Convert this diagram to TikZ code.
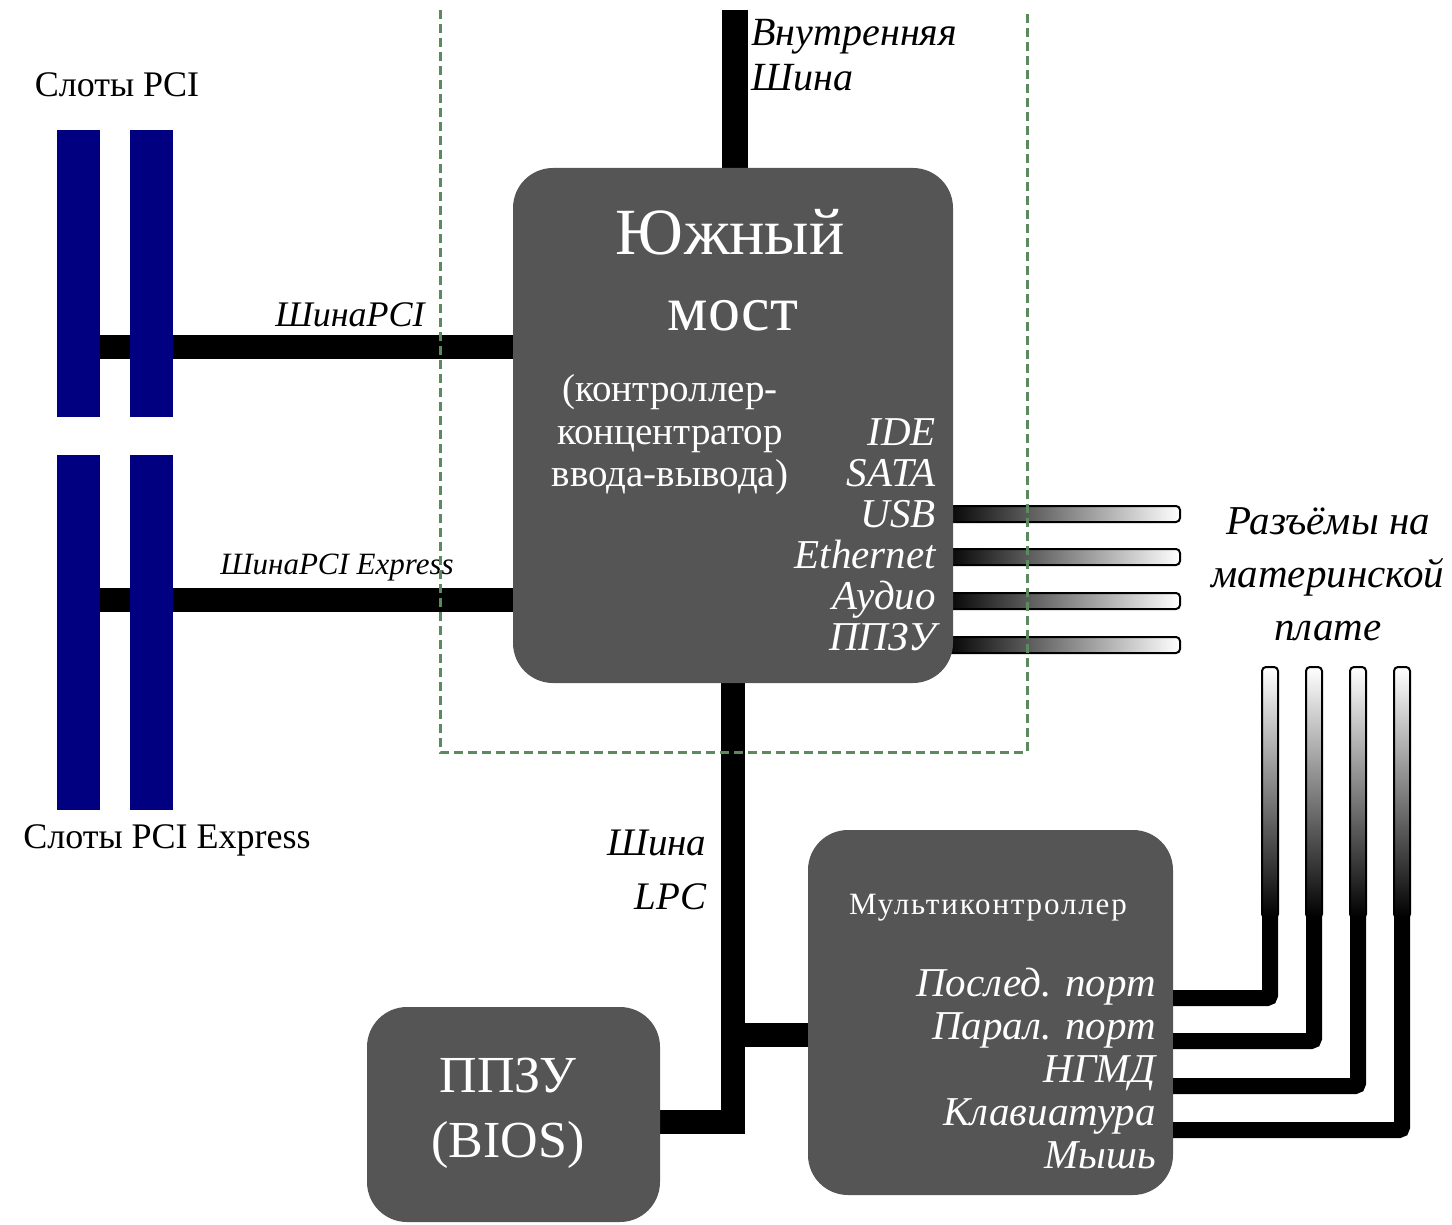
\documentclass[tikz,border=0pt]{standalone}
\usepackage{fontspec}
\setmainfont{Liberation Serif}
\usetikzlibrary{positioning, backgrounds}
\definecolor{chip}{HTML}{555555}
\definecolor{slotblue}{HTML}{000080}
\definecolor{frame}{HTML}{5A8A5E}

\begin{document}
\begin{tikzpicture}[x=1pt, y=-1pt,
  chipbox/.style={fill=chip, rounded corners=40pt, inner sep=0pt},
  slot/.style={fill=slotblue, minimum width=43pt, inner sep=0pt},
  bus/.style={line width=24pt},
  wire/.style={line width=16pt, rounded corners=3pt},
  tube/.style={draw=black, line width=2pt, rounded corners=4pt},
  lbl/.style={font=\fontsize{36}{42}\selectfont},
  ilbl/.style={font=\fontsize{40}{45}\selectfont\itshape},
  wlbl/.style={text=white, align=right, inner sep=0pt}]
  \useasboundingbox (0,0) rectangle (1452,1225);
  % Chips
  \node[chipbox, minimum width=440pt, minimum height=515pt] (sb) at (733,425.5) {};
  \node[chipbox, minimum width=365pt, minimum height=365pt] (mc) at (990.5,1012.5) {};
  \node[chipbox, minimum width=293pt, minimum height=215pt] (bios) at (513.5,1114.5) {};
  % Slots
  \node[slot, minimum height=287pt] (pci1) at (78.5,273.5) {};
  \node[slot, minimum height=287pt, right=30pt of pci1] (pci2) {};
  \node[slot, minimum height=355pt] (pcie1) at (78.5,632.5) {};
  \node[slot, minimum height=355pt, right=30pt of pcie1] (pcie2) {};
  \node[lbl] (tpci) at (117,85) {Слоты PCI};
  \node[lbl] (tpcie) at (167,840) {Слоты PCI Express};
  % Buses
  \coordinate (ibtop) at (735,10);
  \begin{scope}[on background layer]
    \draw[bus, line width=26pt] (ibtop) -- (ibtop |- sb.north);
    \draw[bus] (pci1.east |- 0,347) -- (sb.west |- 0,347);
    \draw[bus] (pcie1.east |- 0,600) -- (sb.west |- 0,600);
    \draw[bus] (sb.south) |- (bios.east |- 0,1122);
    \draw[bus] (sb.south |- 0,1035) -- (mc.west |- 0,1035);
    % Connectors of the south bridge
    \foreach \a/\b in {506/522, 549/565, 593/609, 637/653}
      \shadedraw[tube, left color=black, right color=white]
        ([xshift=-10pt]sb.east |- 0,\a) rectangle (1180,\b);
  \end{scope}
  % Connectors of the multicontroller
  \foreach \x/\y in {1270/998, 1314/1041, 1358/1086, 1402/1130}{
    \coordinate (top\x) at (\x,667);
    \draw[wire] (mc.east |- 0,\y) -| ({\x},910);
    \shadedraw[tube, top color=white, bottom color=black]
      ({\x-8},667) rectangle ({\x+8},918);
  }
  % Labels
  \node[ilbl, font=\fontsize{36}{42}\selectfont\itshape] (lpci) at (350,315) {ШинаPCI};
  \node[ilbl, font=\fontsize{31}{36}\selectfont\itshape] (lpcie) at (337,568) {ШинаPCI Express};
  \node[ilbl, align=left, anchor=west] (lib) at (748,55) {Внутренняя\\Шина};
  \node[ilbl, align=right, anchor=east, font=\fontsize{39}{54}\selectfont\itshape] (llpc) at (710,870) {Шина\\LPC};
  \node[ilbl, align=center, font=\fontsize{41}{53}\selectfont\itshape] (lconn) at (1328,574) {Разъёмы на\\материнской\\плате};
  % Text of the chips
  \node[text=white, font=\fontsize{66}{70}\selectfont] (tsb1) at (730,232) {Южный};
  \node[text=white, font=\fontsize{64}{70}\selectfont] (tsb2) at (733,316) {мост};
  \node[text=white, align=center, font=\fontsize{39}{42.5}\selectfont] (tsb3) at (670,435) {(контроллер-\\концентратор\\ввода-вывода)};
  \node[wlbl, anchor=east, font=\fontsize{41}{41}\selectfont\itshape] (tsb4) at (936,535) {IDE\\SATA\\USB\\Ethernet\\Аудио\\ППЗУ};
  \node[text=white, font=\fontsize{31}{34}\selectfont\addfontfeatures{LetterSpace=6}] (tmc1) at (988,908) {Мультиконтроллер};
  \node[wlbl, anchor=east, font=\fontsize{41}{43}\selectfont\itshape] (tmc2) at (1156,1069) {Послед. порт\\Парал. порт\\НГМД\\Клавиатура\\Мышь};
  \node[text=white, align=center, font=\fontsize{52}{65}\selectfont] (tbios) at (508,1113) {ППЗУ\\(BIOS)};
  % Frame
  \draw[frame, line width=3pt, dash pattern=on 9pt off 5pt]
    (440,10) -- (440,752) -- (1027,752) -- (1027,10);
\end{tikzpicture}
\end{document}
